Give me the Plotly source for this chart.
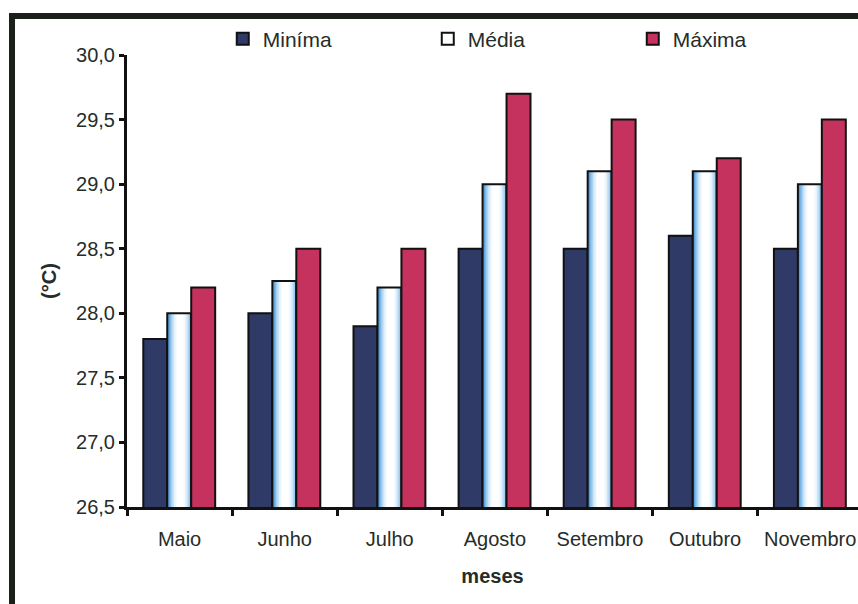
import plotly.graph_objects as go

# Monthly air temperature (°C): minimum, mean and maximum
meses = ["Maio", "Junho", "Julho", "Agosto", "Setembro", "Outubro", "Novembro"]
minima = [27.8, 28.0, 27.9, 28.5, 28.5, 28.6, 28.5]
media = [28.0, 28.25, 28.2, 29.0, 29.1, 29.1, 29.0]
maxima = [28.2, 28.5, 28.5, 29.7, 29.5, 29.2, 29.5]

y_ticks = [26.5, 27.0, 27.5, 28.0, 28.5, 29.0, 29.5, 30.0]

FONT = "Liberation Sans, Arial, sans-serif"
TEXT = "#262c28"
EDGE = "#111111"
BAR_W = 0.228

fig = go.Figure()

# Mínima
fig.add_trace(go.Bar(
    x=meses, y=minima, name="Miníma",
    width=BAR_W, offset=-0.345,
    marker=dict(color="#2f3a67", line=dict(color=EDGE, width=2)),
))

# Média: stacked layers of narrowing bars give a blue-to-white cylinder shading
mid = -0.117 + BAR_W / 2 + 0.01
layers = [
    (BAR_W, "#5a9fd9"),
    (0.205, "#7fb8e6"),
    (0.178, "#a6cff0"),
    (0.150, "#c9e3f7"),
    (0.120, "#e4f2fc"),
    (0.090, "#f7fbff"),
    (0.060, "#ffffff"),
]
for i, (w, c) in enumerate(layers):
    off = mid - w / 2 if i else -0.117
    fig.add_trace(go.Bar(
        x=meses, y=media, width=w, offset=off,
        marker=dict(color=c, line=dict(width=0)),
        showlegend=False, hoverinfo="skip",
    ))
fig.add_trace(go.Bar(
    x=meses, y=media, name="Média",
    width=BAR_W, offset=-0.117,
    marker=dict(color="rgba(255,255,255,0)", line=dict(color=EDGE, width=2)),
))

# Máxima
fig.add_trace(go.Bar(
    x=meses, y=maxima, name="Máxima",
    width=BAR_W, offset=0.111,
    marker=dict(color="#c6325e", line=dict(color=EDGE, width=2)),
))

# Outer frame (top and left edges of the chart border)
frame = dict(color="#1b201b", width=6)
fig.add_shape(type="line", xref="paper", yref="paper",
              x0=-0.161, x1=1.0, y0=1.0863, y1=1.0863, line=frame)
fig.add_shape(type="line", xref="paper", yref="paper",
              x0=-0.1573, x1=-0.1573, y0=1.093, y1=-0.22, line=frame)

fig.update_layout(
    width=858, height=604,
    margin=dict(l=127, r=0, t=55, b=97),
    paper_bgcolor="white", plot_bgcolor="white",
    barmode="overlay",
    separators=",.",
    font=dict(family=FONT, size=20, color=TEXT),
    showlegend=True,
    legend=dict(
        orientation="h", x=0.131, xanchor="left", y=1.035, yanchor="middle",
        entrywidth=160, entrywidthmode="pixels",
        font=dict(family=FONT, size=21, color=TEXT),
        bgcolor="rgba(0,0,0,0)", itemclick=False,
    ),
)

fig.update_xaxes(
    range=[-0.5, 6.455],
    showline=True, linecolor=EDGE, linewidth=3,
    ticks="outside", tickson="boundaries", ticklen=6, tickwidth=3, tickcolor=EDGE,
    ticklabelstandoff=12,
    showgrid=False, zeroline=False,
    tickfont=dict(family=FONT, size=20, color=TEXT),
    title=dict(text="<b>meses</b>", font=dict(family=FONT, size=20, color=TEXT), standoff=20),
)
fig.update_yaxes(
    range=[26.5, 30.0],
    tickvals=y_ticks, tickformat=".1f",
    showline=True, linecolor=EDGE, linewidth=3,
    ticks="outside", ticklen=5, tickwidth=3, tickcolor=EDGE,
    showgrid=False, zeroline=False,
    tickfont=dict(family=FONT, size=20, color=TEXT),
    title=dict(text="<b>(°C)</b>", font=dict(family=FONT, size=20, color=TEXT), standoff=15),
)

fig.write_html("out.html")
